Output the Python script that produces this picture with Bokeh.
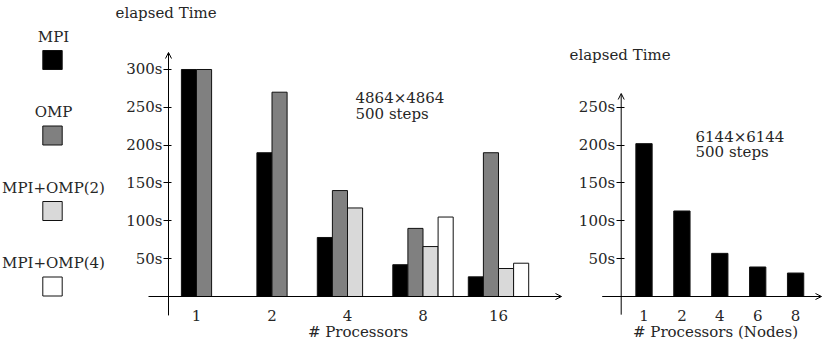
from bokeh.plotting import figure
from bokeh.models import Range1d, LinearAxis, FixedTicker, Arrow, OpenHead, Label
from bokeh.layouts import row
from bokeh.embed import file_html
from bokeh.resources import INLINE
from bokeh.core.properties import value

# ---------------- data ----------------
series = ["MPI", "OMP", "MPI+OMP(2)", "MPI+OMP(4)"]
colors = ["#000000", "#808080", "#d9d9d9", "#ffffff"]

procs = ["1", "2", "4", "8", "16"]
mpi = [300, 190, 78, 42, 26]
omp = [300, 270, 140, 90, 190]
hyb2 = [None, None, 117, 66, 37]
hyb4 = [None, None, None, 105, 44]

nodes = ["1", "2", "4", "6", "8"]
mpi_nodes = [202, 113, 57, 39, 31]

yticks_left = [50, 100, 150, 200, 250, 300]
yticks_right = [50, 100, 150, 200, 250]

title_left = "4864\u00d74864"
title_right = "6144\u00d76144"
steps = "500 steps"

# ---------------- style ----------------
FONT = "DejaVu Serif"
FS = "15px"
H = 344
PXU = 0.7567          # px per second (vertical)
BASE = 296            # baseline in figure px from top
TXT = "#262626"


def mk_fig(w, xr):
    p = figure(width=w, height=H, output_backend="svg", toolbar_location=None,
               x_axis_type=None, y_axis_type=None, min_border=0,
               x_range=Range1d(*xr),
               y_range=Range1d(-(H - BASE) / PXU, BASE / PXU))
    p.outline_line_color = None
    p.background_fill_color = "white"
    p.border_fill_color = "white"
    return p


def yd(fy):
    return (BASE - fy) / PXU


def add_axes(p, yax_x, x_from, x_to, y_from, y_to, yticks, xlabels, xtitle, xbounds):
    p.add_layout(Arrow(end=OpenHead(size=6, line_width=1), x_start=x_from, y_start=0,
                       x_end=x_to, y_end=0, line_width=1, line_color="black"))
    p.add_layout(Arrow(end=OpenHead(size=6, line_width=1), x_start=yax_x, y_start=y_from,
                       x_end=yax_x, y_end=y_to, line_width=1, line_color="black"))
    ya = LinearAxis(fixed_location=yax_x, ticker=FixedTicker(ticks=yticks),
                    major_label_overrides={t: f"{t}s" for t in yticks})
    ya.axis_line_color = None
    ya.major_tick_in = 3
    ya.major_tick_out = 5
    ya.minor_tick_line_color = None
    ya.major_label_standoff = 1
    ya.major_label_text_font = FONT
    ya.major_label_text_font_size = FS
    ya.major_label_text_color = TXT
    p.add_layout(ya, "left")
    idx = list(range(len(xlabels)))
    xa = LinearAxis(fixed_location=0, ticker=FixedTicker(ticks=idx), bounds=xbounds,
                    major_label_overrides={i: s for i, s in zip(idx, xlabels)})
    xa.axis_line_color = None
    xa.major_tick_line_color = None
    xa.major_tick_in = 0
    xa.major_tick_out = 0
    xa.minor_tick_line_color = None
    xa.major_label_standoff = 13
    xa.major_label_text_font = FONT
    xa.major_label_text_font_size = FS
    xa.major_label_text_color = TXT
    xa.axis_label = xtitle
    xa.axis_label_standoff = -1
    xa.axis_label_text_font = FONT
    xa.axis_label_text_font_size = FS
    xa.axis_label_text_font_style = "normal"
    xa.axis_label_text_color = TXT
    p.add_layout(xa, "below")


def add_text(p, x, fy, txt):
    p.add_layout(Label(x=x, y=yd(fy), text=txt, text_font=FONT, text_font_size=FS,
                       text_baseline="middle", text_align="left", text_color=TXT))


# ---------------- legend figure ----------------
LW = 110
leg = figure(width=LW, height=H, output_backend="svg", toolbar_location=None,
             x_axis_type=None, y_axis_type=None, min_border=0,
             x_range=Range1d(0, LW), y_range=Range1d(H, 0))
leg.outline_line_color = None
ly_text = [36 + 75.5 * i for i in range(len(series))]
ly_box = [59.5 + 75.5 * i for i in range(len(series))]
leg.rect(x=[52] * len(series), y=ly_box, width=19.4, height=19, fill_color=colors,
         line_color="#111111", line_width=1)
leg.text(x=[53] * len(series), y=ly_text, text=series, text_font=value(FONT),
         text_font_size=FS, text_align="center", text_baseline="middle", text_color=TXT)

# ---------------- left chart ----------------
W1 = 455
GX = 75.5      # px per group
X0 = 86        # local px of group 0
left = mk_fig(W1, (-X0 / GX, (W1 - X0) / GX))
bw = 15.1 / GX
all_series = [mpi, omp, hyb2, hyb4]
for gi in range(len(procs)):
    n = sum(1 for s in all_series if s[gi] is not None)
    slots = 2 if n <= 2 else 4
    for j, s in enumerate(all_series):
        if s[gi] is None:
            continue
        off = (j - (slots - 1) / 2) * bw
        left.vbar(x=[gi + off], top=[s[gi]], width=bw, bottom=0,
                  fill_color=colors[j], line_color="#111111", line_width=1)
yax1 = (168 - 110 - X0) / GX
add_axes(left, yax1, (148 - 110 - X0) / GX, (W1 - 4 - X0) / GX,
         -25, yd(52), yticks_left, procs, "# Processors", (-0.55, 4.84))
add_text(left, (5 - X0) / GX, 12, "elapsed Time")
add_text(left, (245 - X0) / GX, 97.3, title_left)
add_text(left, (245 - X0) / GX, 113.5, steps)

# ---------------- right chart ----------------
W2 = 823 - LW - W1
GX2 = 37.9
X02 = 78.5
right = mk_fig(W2, (-X02 / GX2, (W2 - X02) / GX2))
right.vbar(x=list(range(len(nodes))), top=mpi_nodes, width=16.3 / GX2, bottom=0,
           fill_color="#000000", line_color="#111111", line_width=1)
yax2 = (55.7 - X02) / GX2
add_axes(right, yax2, (36.7 - X02) / GX2, (W2 - 2 - X02) / GX2,
         -24, yd(93), yticks_right, nodes, "# Processors (Nodes)", (-0.7, 4.47))
add_text(right, (4 - X02) / GX2, 54, "elapsed Time")
add_text(right, (130 - X02) / GX2, 136.7, title_right)
add_text(right, (130 - X02) / GX2, 151.7, steps)

layout = row(leg, left, right, spacing=0)
open("out.html", "w").write(file_html(layout, INLINE))
